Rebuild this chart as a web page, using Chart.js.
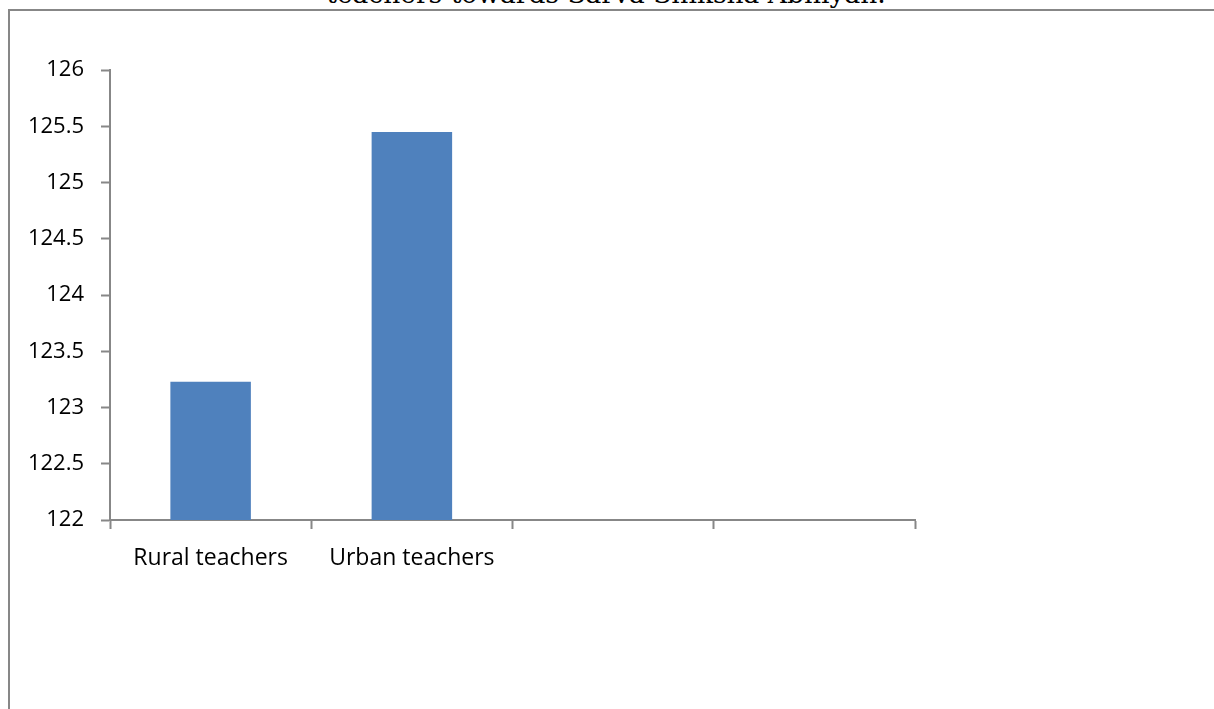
<!DOCTYPE html>
<html>
<head>
    <meta charset="utf-8" />
    <title>chart</title>
    <script src="https://cdn.jsdelivr.net/npm/chart.js"></script>
    <style>
        body {
            margin: 0;
            background: #ffffff;
            overflow: hidden;
        }

        .frame {
            position: absolute;
            left: 8px;
            top: 9px;
            width: 1300px;
            height: 800px;
            border-left: 2px solid #878787;
            border-top: 2px solid #878787;
        }

        .title {
            position: absolute;
            left: 0;
            top: -19px;
            width: 1212px;
            text-align: center;
            font-family: "DejaVu Serif", serif;
            font-size: 26.5px;
            line-height: 26px;
            color: #000;
        }

        .box {
            position: absolute;
            left: 0;
            top: 0;
            width: 1214px;
            height: 709px;
        }
    </style>
</head>
<body>
    <div class="frame"></div>
    <div class="title">teachers towards Sarva Shiksha Abhiyan.</div>
    <div class="box">
        <canvas id="barChart"></canvas>
    </div>

<script>
    // data
    let categories = ["Rural teachers", "Urban teachers", "", ""]
    let meanScores = [123.23, 125.45, null, null]
    let yTicks = [122, 122.5, 123, 123.5, 124, 124.5, 125, 125.5, 126]

    let axisGray = '#878787'

    var barChart = new Chart(document.getElementById("barChart"), {
        type: 'bar',
        data: {
            labels: categories,
            datasets: [{
                data: meanScores,
                backgroundColor: '#4f81bd',
                barPercentage: 0.4,
                categoryPercentage: 1
            }]
        },
        options: {
            responsive: true,
            maintainAspectRatio: false,
            animation: false,
            layout: {
                padding: { left: 0, top: 70, right: 299, bottom: 89 }
            },
            plugins: {
                legend: { display: false },
                tooltip: { enabled: false }
            },
            scales: {
                x: {
                    afterFit: function (scale) { scale.height = 100 },
                    grid: {
                        offset: true,
                        drawOnChartArea: false,
                        drawTicks: true,
                        tickLength: 9,
                        tickWidth: 2,
                        tickColor: axisGray
                    },
                    border: { display: true, color: axisGray, width: 2 },
                    ticks: {
                        color: '#000',
                        padding: 16,
                        maxRotation: 0,
                        font: { family: 'Open Sans', size: 23 }
                    }
                },
                y: {
                    min: yTicks[0],
                    max: yTicks[yTicks.length - 1],
                    afterFit: function (scale) { scale.width = 110 },
                    afterBuildTicks: function (scale) {
                        scale.ticks = yTicks.map(v => ({ value: v }))
                    },
                    grid: {
                        drawOnChartArea: false,
                        drawTicks: true,
                        tickLength: 9,
                        tickWidth: 2,
                        tickColor: axisGray
                    },
                    border: { display: true, color: axisGray, width: 2 },
                    ticks: {
                        color: '#000',
                        padding: 17,
                        font: { family: 'Open Sans', size: 22 },
                        callback: function (value) { return String(value) }
                    }
                }
            }
        }
    });
</script>
</body>
</html>
